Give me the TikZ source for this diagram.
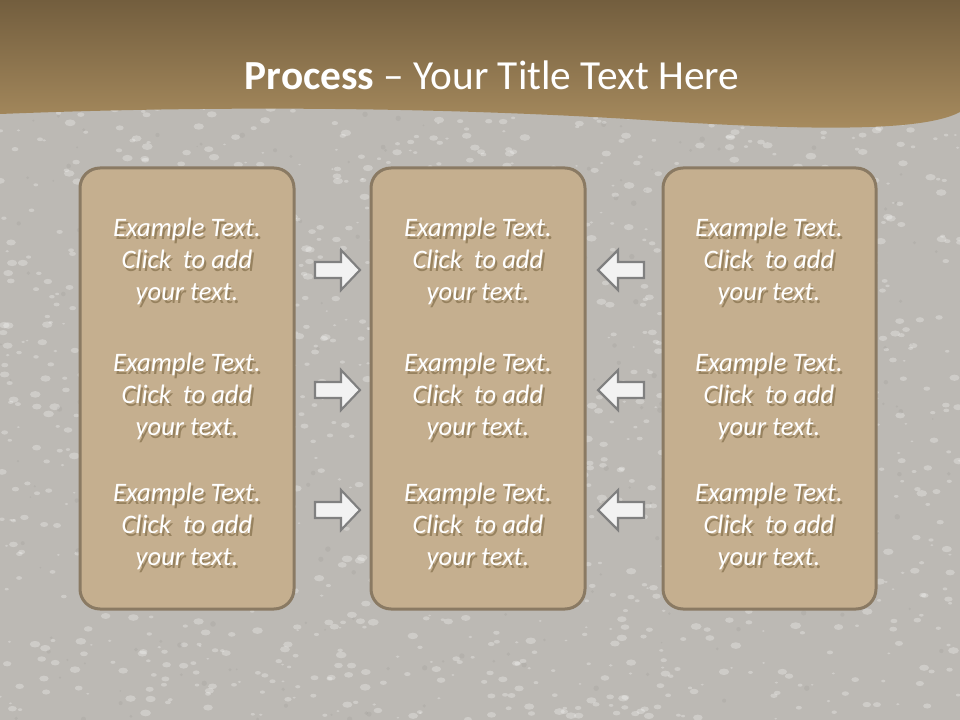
\documentclass[tikz,border=0pt]{standalone}
\usepackage{fontspec}
\setmainfont{Carlito}
\definecolor{bggray}{HTML}{BCB9B4}
\definecolor{hdrtop}{HTML}{735E3E}
\definecolor{hdrbot}{HTML}{A88C5F}
\definecolor{boxfill}{HTML}{C5AF8F}
\definecolor{boxline}{HTML}{8A7A63}
\definecolor{arrfill}{HTML}{F2F2F2}
\definecolor{arrline}{HTML}{808080}
\definecolor{shadowc}{HTML}{97825F}
\newcommand{\shd}[1]{\makebox[0pt][l]{\kern1.6pt\raisebox{-2.2pt}{\textcolor{shadowc}{#1}}}#1}
\newcommand{\ptxt}{\shd{Example Text.}\\\shd{Click\ \ to add}\\\shd{your text.}}
\begin{document}
\begin{tikzpicture}[x=0.75pt,y=-0.75pt,
  panel/.style={draw=boxline,line width=2.25pt,fill=boxfill,rounded corners=15pt},
  barrow/.style={draw=arrline,line width=1.6pt,fill=arrfill,line join=miter},
  bodytxt/.style={text=white,font=\fontsize{20}{24}\selectfont\itshape,align=center,inner sep=0pt}]
\useasboundingbox (0,0) rectangle (960,720);
% background
\fill[bggray] (0,0) rectangle (960,720);
\begin{scope}
\pgfmathsetseed{7}
\foreach \i in {1,...,1500}{
  \pgfmathsetmacro{\px}{rnd*960}
  \pgfmathsetmacro{\py}{100+rnd*620}
  \pgfmathsetmacro{\pr}{0.8+rnd*2.6}
  \fill[white,opacity=0.28] (\px,\py) ellipse[x radius=1.6*\pr,y radius=\pr];
}
\foreach \i in {1,...,300}{
  \pgfmathsetmacro{\px}{rnd*960}
  \pgfmathsetmacro{\py}{100+rnd*620}
  \pgfmathsetmacro{\pr}{0.8+rnd*2}
  \fill[black!70,opacity=0.07] (\px,\py) circle[radius=\pr];
}
\end{scope}
% header
\shade[top color=hdrtop,bottom color=hdrbot]
  (0,0) -- (960,0) -- (960,112)
  .. controls (925,131) and (820,131) .. (660,121)
  .. controls (480,109) and (250,104) .. (0,114) -- cycle;
\node[text=white,font=\fontsize{31}{37}\selectfont,inner sep=0pt] (title) at (492,75)
  {\textbf{Process} – Your Title Text Here};
% panels
\draw[panel] (80,168) rectangle (294,609);
\draw[panel] (371,168) rectangle (585,609);
\draw[panel] (663,168) rectangle (876,609);
% texts
\foreach \cx/\nm in {187/a,478/b,769/c}{
  \foreach \cy/\rw in {263/1,398/2,528/3}{
    \node[bodytxt] (t\nm\rw) at (\cx,\cy) {\ptxt};
  }
}
% arrows
\foreach \cy/\rw in {270/1,390/2,510/3}{
  \coordinate (ra\rw) at (337,\cy);
  \coordinate (la\rw) at (621,\cy);
  \draw[barrow] (ra\rw) ++(-22,-8) -- ++(26,0) -- ++(0,-12) -- ++(19,20) -- ++(-19,20) -- ++(0,-12) -- ++(-26,0) -- cycle;
  \draw[barrow] (la\rw) ++(23,-8) -- ++(-26,0) -- ++(0,-12) -- ++(-20,20) -- ++(20,20) -- ++(0,-12) -- ++(26,0) -- cycle;
}
\end{tikzpicture}
\end{document}
